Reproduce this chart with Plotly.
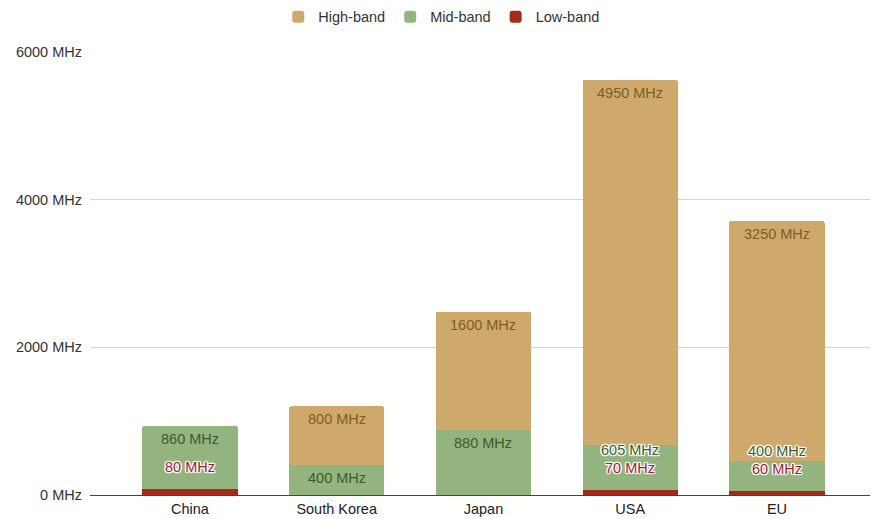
import plotly.graph_objects as go

# Spectrum allocation per region, by band (MHz)
regions = ["China", "South Korea", "Japan", "USA", "EU"]
low_band = [80, 0, 0, 70, 60]
mid_band = [860, 400, 880, 605, 400]
high_band = [0, 800, 1600, 4950, 3250]
y_ticks = [0, 2000, 4000, 6000]

LOW_C, MID_C, HIGH_C = "#a52a17", "#93b47f", "#cfa96b"
LOW_T, MID_T, HIGH_T = "#9e1b30", "#3e5a2c", "#7d5e22"
FONT = "Liberation Sans, Arial, sans-serif"
FS = 14.5

W, H = 872, 519
M = dict(l=90, r=2, t=51, b=24)
Y_MAX = 6000
px_per_unit = (H - M["t"] - M["b"]) / Y_MAX

fig = go.Figure()
for name, vals, col in [("Low-band", low_band, LOW_C),
                        ("Mid-band", mid_band, MID_C),
                        ("High-band", high_band, HIGH_C)]:
    fig.add_trace(go.Bar(x=regions, y=vals, name=name, marker_color=col,
                         marker_line_width=0, width=0.65,
                         hoverinfo="x+y+name"))

halo = ("1px 1px 1px #fff, -1px -1px 1px #fff, 1px -1px 1px #fff, "
        "-1px 1px 1px #fff, 0 1px 1px #fff, 0 -1px 1px #fff, "
        "1px 0 1px #fff, -1px 0 1px #fff")

def label(x, y, val, color, yshift, shadow=None):
    f = dict(family=FONT, size=FS, color=color)
    if shadow:
        f["shadow"] = shadow
    fig.add_annotation(x=x, y=y, text=f"{val} MHz", showarrow=False,
                       xanchor="center", yanchor="middle", yshift=yshift,
                       font=f)

LOW_OFF = 22      # low-band label sits above its thin segment
INSIDE = -13      # labels inside the top of a segment
GAP = 18          # minimum spacing between stacked labels

for r, lo, mi, hi in zip(regions, low_band, mid_band, high_band):
    if lo:
        label(r, lo, lo, LOW_T, LOW_OFF, halo)
    if mi:
        natural = mi * px_per_unit + INSIDE
        if lo and natural - LOW_OFF < GAP:
            label(r, lo, mi, MID_T, LOW_OFF + GAP, halo)
        else:
            label(r, lo + mi, mi, MID_T, INSIDE)
    if hi:
        label(r, lo + mi + hi, hi, HIGH_T, INSIDE)

fig.update_layout(
    width=W, height=H, margin=M,
    barmode="stack", barcornerradius=2,
    plot_bgcolor="white", paper_bgcolor="white",
    font=dict(family=FONT, size=FS, color="#333"),
    showlegend=True,
    legend=dict(orientation="h", traceorder="reversed",
                x=0.451, xanchor="center", y=1.077, yanchor="middle",
                font=dict(size=FS, color="#333"),
                itemwidth=30, bgcolor="rgba(0,0,0,0)"),
    xaxis=dict(range=[-0.681, 4.634], showgrid=False, ticks="",
               showline=False, automargin=False, ticklabelstandoff=3,
               tickfont=dict(size=FS, color="#222")),
    yaxis=dict(range=[0, Y_MAX], tickvals=y_ticks,
               ticktext=[f"{v} MHz" for v in y_ticks],
               gridcolor="#d4d4d4", gridwidth=1, zeroline=True,
               zerolinecolor="#444", zerolinewidth=1.3, ticks="",
               ticklabelstandoff=7, automargin=False,
               tickfont=dict(size=FS, color="#333")),
)

fig.write_html("out.html")
